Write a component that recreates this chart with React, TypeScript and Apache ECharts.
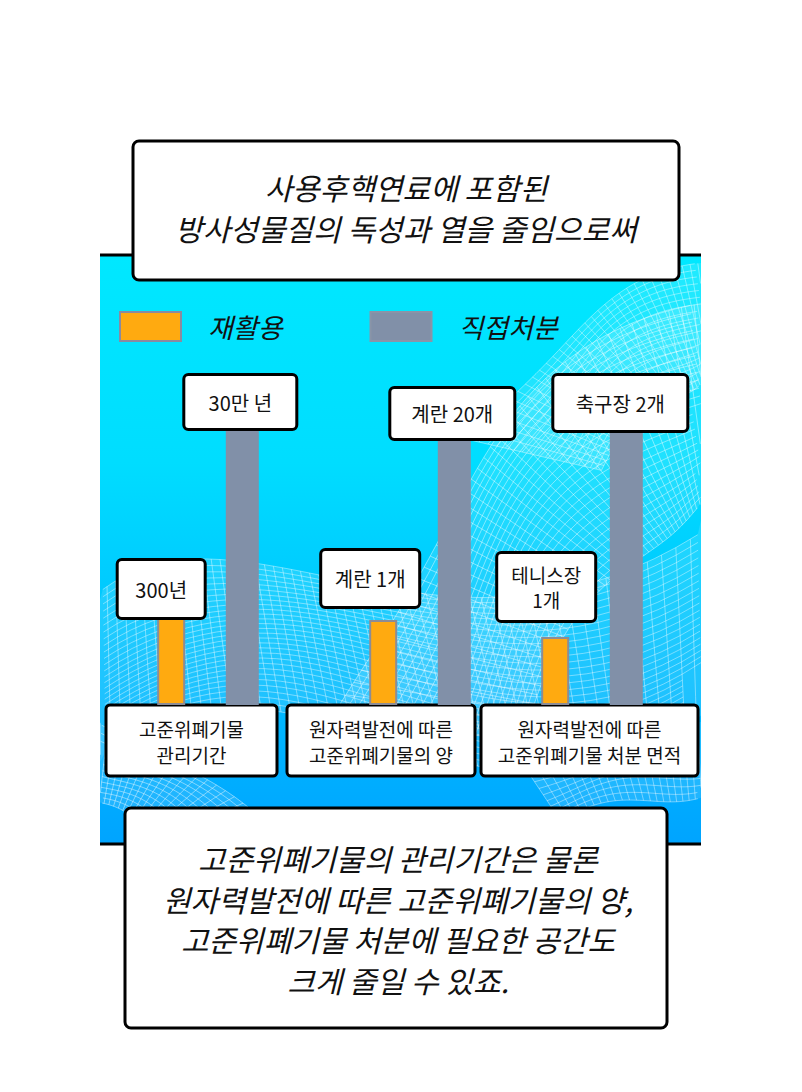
import React, { useEffect, useRef } from "react";
import * as echarts from "echarts";

// ---------- data ----------
const categories = [
  "고준위폐기물\n관리기간",
  "원자력발전에 따른\n고준위폐기물의 양",
  "원자력발전에 따른\n고준위폐기물 처분 면적",
];
const seriesNames = ["재활용", "직접처분"];
const recycleValues = [88, 85, 68];
const directValues = [277, 267, 275];
const recycleLabels = ["300년", "계란 1개", "테니스장\n1개"];
const directLabels = ["30만 년", "계란 20개", "축구장 2개"];
const titleLines = ["사용후핵연료에 포함된", "방사성물질의 독성과 열을 줄임으로써"];
const footerLines = [
  "고준위폐기물의 관리기간은 물론",
  "원자력발전에 따른 고준위폐기물의 양,",
  "고준위폐기물 처분에 필요한 공간도",
  "크게 줄일 수 있죠.",
];

// ---------- layout / style ----------
const FONT = '"Noto Sans CJK KR", "Noto Sans", sans-serif';
const pairCenters = [208, 420, 592];
const catBoxes = [
  [106, 705, 171, 71],
  [287, 705, 188, 71],
  [481, 705, 217, 71],
];
const recycleLabelStyle = [
  { w: 85, lh: 56, pad: 0, dist: 0, dx: -10, fs: 20 },
  { w: 96, lh: 55, pad: 0, dist: 14, dx: -13, fs: 20 },
  { w: 96, lh: 25, pad: 8, dist: 17, dx: -9, fs: 19 },
];
const directLabelStyle = [
  { w: 110, lh: 52, pad: 0, dist: 0, dx: -2, fs: 20 },
  { w: 122, lh: 49, pad: 0, dist: 0, dx: -2, fs: 20 },
  { w: 132, lh: 54, pad: 0, dist: 0, dx: -6, fs: 20 },
];
const PANEL = { x: 100, y: 256, w: 601, h: 588 };

function bez(p: number[][], t: number) {
  const u = 1 - t;
  const a = u * u * u, b = 3 * u * u * t, c = 3 * u * t * t, d = t * t * t;
  return [
    a * p[0][0] + b * p[1][0] + c * p[2][0] + d * p[3][0],
    a * p[0][1] + b * p[1][1] + c * p[2][1] + d * p[3][1],
  ];
}

function inPanel(pt: number[]) {
  return (
    pt[0] >= PANEL.x && pt[0] <= PANEL.x + PANEL.w &&
    pt[1] >= PANEL.y + 1 && pt[1] <= PANEL.y + PANEL.h - 1
  );
}

function splitLine(pts: number[][]) {
  const out: number[][][] = [];
  let cur: number[][] = [];
  pts.forEach((p) => {
    if (inPanel(p)) cur.push(p);
    else {
      if (cur.length > 1) out.push(cur);
      cur = [];
    }
  });
  if (cur.length > 1) out.push(cur);
  return out;
}

function sheet(P: number[][], Q: number[][], nu: number, nv: number, opacity: number) {
  const els: any[] = [];
  const samples = 40;
  const warp = (a: number[], b: number[], s: number, t: number) => {
    const w = s + 0.08 * Math.sin(t * Math.PI * 2 + s * 3);
    return [a[0] + (b[0] - a[0]) * w, a[1] + (b[1] - a[1]) * w];
  };
  const outline: number[][] = [];
  for (let k = 0; k <= samples; k++) outline.push(warp(bez(P, k / samples), bez(Q, k / samples), 0, k / samples));
  for (let k = samples; k >= 0; k--) outline.push(warp(bez(P, k / samples), bez(Q, k / samples), 1, k / samples));
  els.push({
    type: "polygon",
    silent: true,
    shape: { points: outline.map((p) => [
      Math.min(Math.max(p[0], PANEL.x), PANEL.x + PANEL.w),
      Math.min(Math.max(p[1], PANEL.y), PANEL.y + PANEL.h),
    ]) },
    style: { fill: "rgba(255,255,255,0.12)" },
  });
  const add = (pts: number[][]) => {
    splitLine(pts).forEach((seg) =>
      els.push({
        type: "polyline",
        silent: true,
        shape: { points: seg },
        style: { stroke: "rgba(255,255,255," + opacity + ")", lineWidth: 0.8, fill: null },
      })
    );
  };
  for (let i = 0; i <= nu; i++) {
    const s = i / nu;
    const pts: number[][] = [];
    for (let k = 0; k <= samples; k++) {
      const t = k / samples;
      pts.push(warp(bez(P, t), bez(Q, t), s, t));
    }
    add(pts);
  }
  for (let j = 0; j <= nv; j++) {
    const t = j / nv;
    const a = bez(P, t), b = bez(Q, t);
    const pts: number[][] = [];
    for (let k = 0; k <= 12; k++) pts.push(warp(a, b, k / 12, t));
    add(pts);
  }
  return els;
}

function buildBackground() {
  const els: any[] = [];
  els.push({
    type: "rect",
    silent: true,
    shape: { x: PANEL.x, y: PANEL.y, width: PANEL.w, height: PANEL.h },
    style: {
      fill: new echarts.graphic.LinearGradient(0, 0, 0, 1, [
        { offset: 0, color: "#00E8FF" },
        { offset: 0.35, color: "#00DDFF" },
        { offset: 1, color: "#00A4FF" },
      ]),
    },
  });
  els.push(
    ...sheet(
      [[330, 720], [420, 520], [520, 360], [720, 300]],
      [[520, 740], [600, 600], [650, 520], [720, 480]],
      26, 46, 0.55
    )
  );
  els.push(
    ...sheet(
      [[90, 600], [260, 420], [420, 760], [720, 520]],
      [[90, 760], [300, 640], [480, 860], [720, 700]],
      28, 60, 0.5
    )
  );
  els.push(
    ...sheet(
      [[470, 440], [540, 330], [640, 280], [720, 262]],
      [[600, 470], [650, 420], [690, 380], [720, 360]],
      18, 34, 0.5
    )
  );
  els.push(
    ...sheet(
      [[90, 720], [170, 740], [230, 800], [300, 860]],
      [[90, 800], [130, 820], [160, 840], [190, 860]],
      12, 26, 0.55
    )
  );
  els.push(
    ...sheet(
      [[520, 760], [600, 730], [660, 740], [720, 720]],
      [[560, 820], [620, 800], [670, 800], [720, 790]],
      10, 24, 0.5
    )
  );
  els.push({
    type: "line",
    silent: true,
    shape: { x1: PANEL.x, y1: PANEL.y - 1, x2: PANEL.x + PANEL.w, y2: PANEL.y - 1 },
    style: { stroke: "#000", lineWidth: 3 },
  });
  els.push({
    type: "line",
    silent: true,
    shape: { x1: PANEL.x, y1: PANEL.y + PANEL.h, x2: PANEL.x + PANEL.w, y2: PANEL.y + PANEL.h },
    style: { stroke: "#000", lineWidth: 3 },
  });
  return els;
}

function box(x: number, y: number, w: number, h: number, r: number) {
  return {
    type: "rect",
    shape: { x, y, width: w, height: h, r },
    style: { fill: "#fff", stroke: "#000", lineWidth: 3 },
  };
}

function buildForeground() {
  const els: any[] = [];
  catBoxes.forEach((b, i) => {
    els.push(box(b[0], b[1], b[2], b[3], 4));
    els.push({
      type: "text",
      style: {
        text: categories[i],
        x: b[0] + b[2] / 2,
        y: b[1] + b[3] / 2 + 1,
        align: "center",
        verticalAlign: "middle",
        lineHeight: 26,
        font: "19px " + FONT,
        fill: "#111",
      },
    });
  });
  els.push(box(133, 141, 546, 139, 6));
  titleLines.forEach((t, i) => {
    els.push({
      type: "text",
      style: {
        text: t,
        x: 406,
        y: 187 + i * 41,
        align: "center",
        verticalAlign: "middle",
        font: "italic 30px " + FONT,
        fill: "#111",
      },
    });
  });
  els.push(box(125, 808, 542, 220, 6));
  footerLines.forEach((t, i) => {
    els.push({
      type: "text",
      style: {
        text: t,
        x: 398,
        y: 858 + i * 40.7,
        align: "center",
        verticalAlign: "middle",
        font: "italic 30px " + FONT,
        fill: "#111",
      },
    });
  });
  return els;
}

function makeLabel(text: string, st: any) {
  return {
    show: true,
    position: "top",
    distance: st.dist,
    offset: [st.dx, 0],
    formatter: text,
    backgroundColor: "#fff",
    borderColor: "#000",
    borderWidth: 3,
    borderRadius: 3,
    width: st.w,
    lineHeight: st.lh,
    padding: [st.pad, 0],
    align: "center",
    fontSize: st.fs,
    fontFamily: FONT,
    color: "#111",
  };
}

export default function App() {
  const ref = useRef<HTMLDivElement>(null);
  useEffect(() => {
    document.body.style.margin = "0";
    if (!ref.current) return;
    const chart = echarts.init(ref.current, undefined, { renderer: "svg" });

    const grids: any[] = [];
    const xAxes: any[] = [];
    const yAxes: any[] = [];
    const series: any[] = [];
    categories.forEach((cat, i) => {
      grids.push({ left: pairCenters[i] - 80, width: 160, top: 405, height: 300 });
      xAxes.push({ type: "category", gridIndex: i, data: [cat], show: false });
      yAxes.push({ type: "value", gridIndex: i, min: 0, max: 300, show: false });
      series.push({
        type: "bar",
        name: seriesNames[0],
        xAxisIndex: i,
        yAxisIndex: i,
        barWidth: 28,
        barGap: "145%",
        z: 3,
        itemStyle: { color: "#FFAA10", borderColor: "#8C8C96", borderWidth: 2 },
        data: [{ value: recycleValues[i], label: makeLabel(recycleLabels[i], recycleLabelStyle[i]) }],
      });
      series.push({
        type: "bar",
        name: seriesNames[1],
        xAxisIndex: i,
        yAxisIndex: i,
        barWidth: 33,
        barGap: "145%",
        z: 3,
        itemStyle: { color: "#8190A8" },
        data: [{ value: directValues[i], label: makeLabel(directLabels[i], directLabelStyle[i]) }],
      });
    });

    chart.setOption({
      animation: false,
      backgroundColor: "#fff",
      graphic: [
        { type: "group", z: -10, silent: true, children: buildBackground() },
        { type: "group", z: 100, children: buildForeground() },
      ],
      legend: {
        left: 119,
        top: 311,
        icon: "rect",
        itemWidth: 61,
        itemHeight: 29,
        itemGap: 87,
        padding: 0,
        selectedMode: false,
        data: [
          { name: seriesNames[0], itemStyle: { borderColor: "#8A8AA0", borderWidth: 2 } },
          { name: seriesNames[1], itemStyle: { borderColor: "#8A94A8", borderWidth: 2 } },
        ],
        textStyle: {
          fontSize: 27,
          fontStyle: "italic",
          fontFamily: FONT,
          color: "#111",
          padding: [0, 0, 0, 22],
        },
      },
      grid: grids,
      xAxis: xAxes,
      yAxis: yAxes,
      series,
    });
    return () => chart.dispose();
  }, []);
  return <div ref={ref} style={{ width: 802, height: 1092 }} />;
}
